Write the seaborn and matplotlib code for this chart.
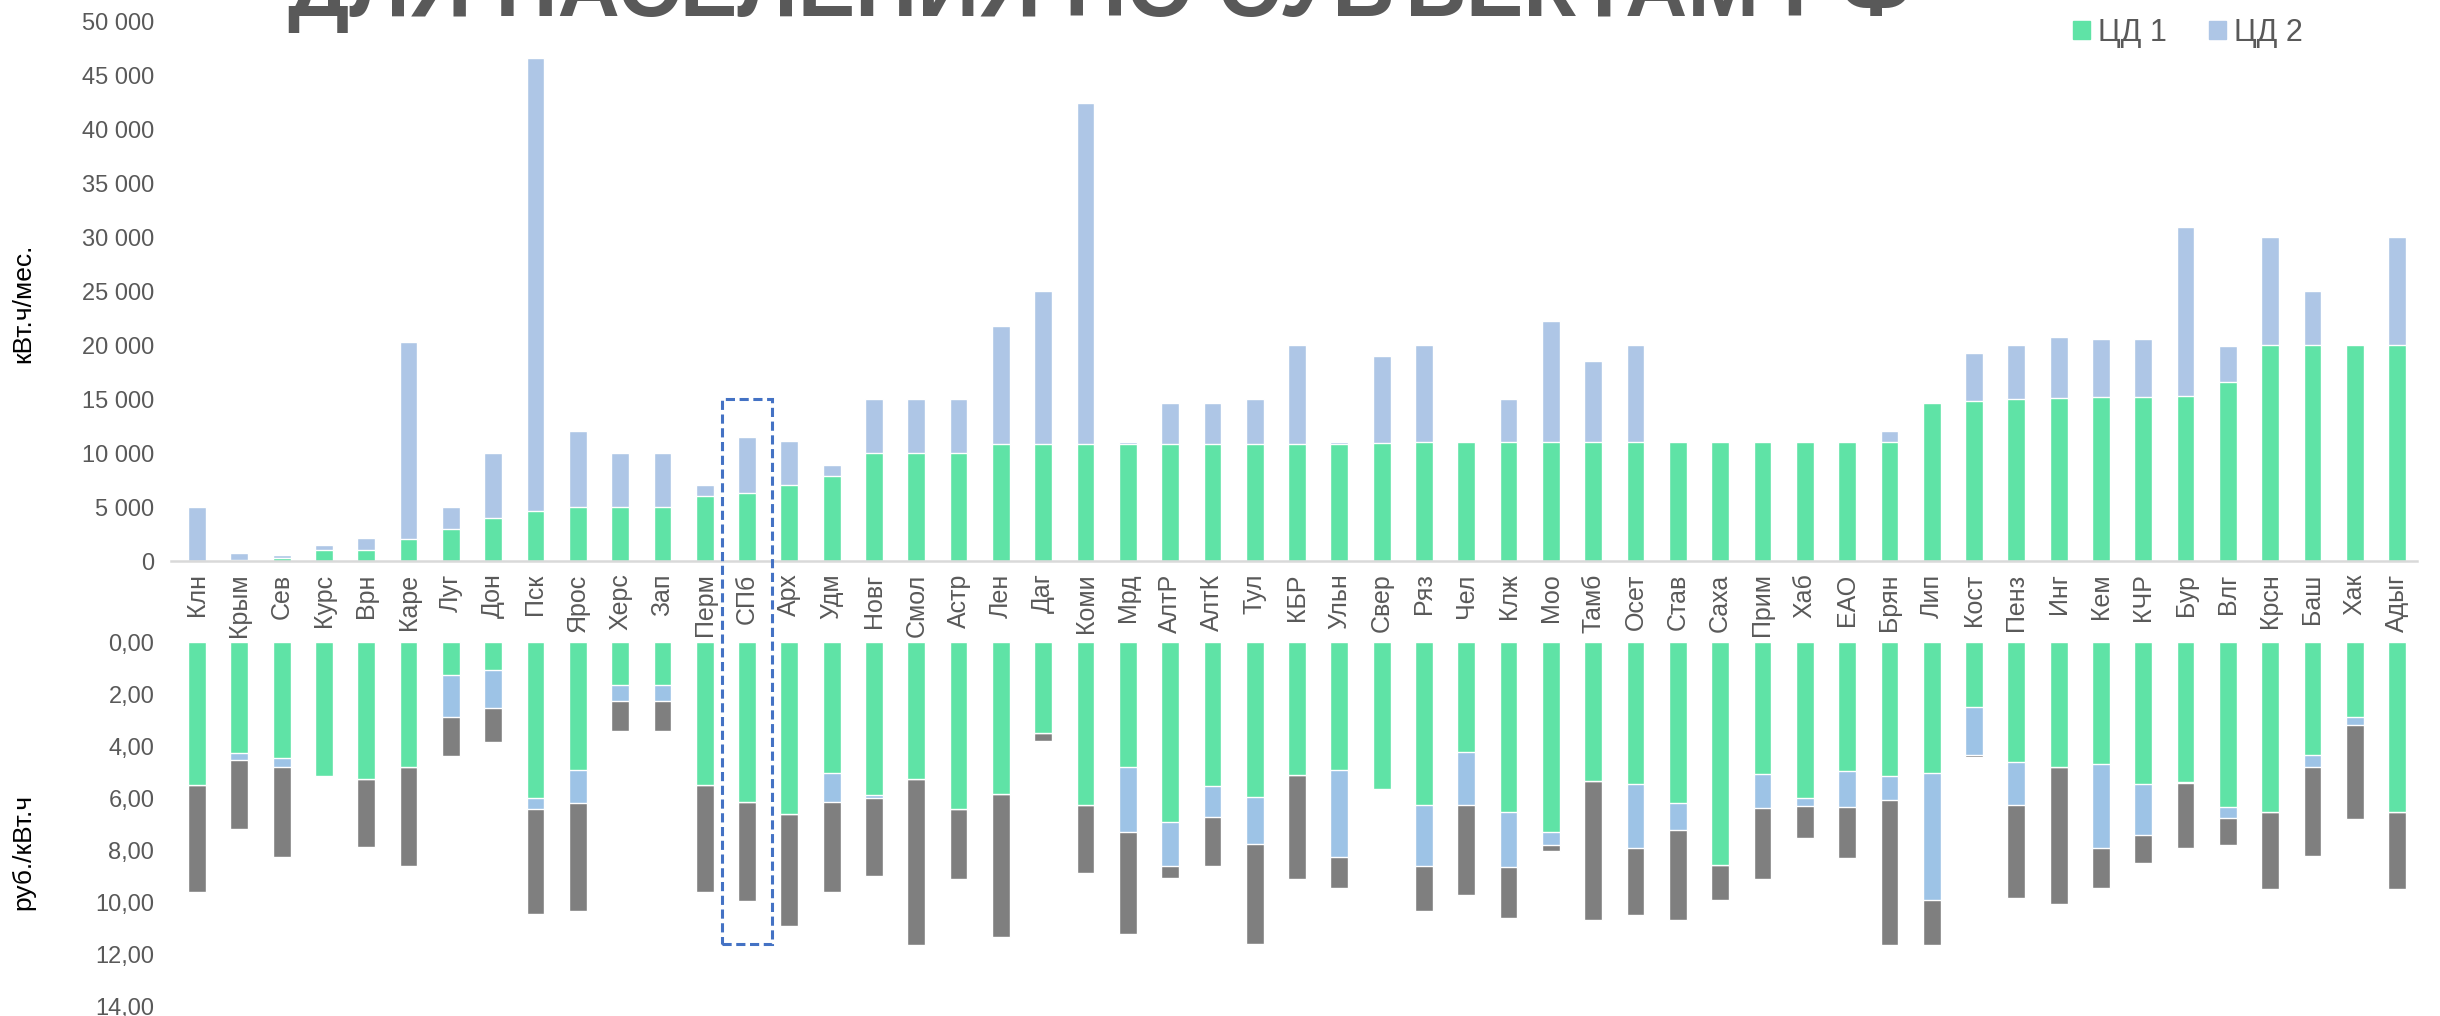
import numpy as np
import seaborn as sns
import matplotlib.pyplot as plt
from matplotlib.patches import Patch, Rectangle
from matplotlib.ticker import FuncFormatter

sns.set_style("white")
plt.rcParams['font.family'] = ['Liberation Sans', 'DejaVu Sans']

# ----------------------------
# Data
# ----------------------------
regions = ["Клн", "Крым", "Сев", "Курс", "Врн", "Каре", "Луг", "Дон", "Пск", "Ярос",
           "Херс", "Зап", "Перм", "СПб", "Арх", "Удм", "Новг", "Смол", "Астр", "Лен",
           "Даг", "Коми", "Мрд", "АлтР", "АлтК", "Тул", "КБР", "Ульн", "Свер", "Ряз",
           "Чел", "Клж", "Моо", "Тамб", "Осет", "Став", "Саха", "Прим", "Хаб", "ЕАО",
           "Брян", "Лип", "Кост", "Пенз", "Инг", "Кем", "КЧР", "Бур", "Влг", "Крсн",
           "Баш", "Хак", "Адыг"]

# consumption thresholds, kWh/month
cd1_kwh = [0, 100, 250, 1000, 1000, 2000, 3000, 4000, 4600, 5000,
           5000, 5000, 6000, 6300, 7000, 7900, 10000, 10000, 10000, 10850,
           10850, 10850, 10850, 10850, 10850, 10850, 10850, 10850, 10900, 11050,
           11050, 11050, 11050, 11050, 11050, 11050, 11050, 11050, 11050, 11050,
           11050, 14650, 14800, 15000, 15050, 15200, 15200, 15250, 16600, 20000,
           20000, 20000, 20000]
cd2_kwh = [5000, 650, 300, 500, 1100, 18300, 2000, 6000, 42000, 7000,
           5000, 5000, 1000, 5150, 4100, 1000, 5000, 5000, 5000, 10950,
           14150, 31550, 200, 3750, 3750, 4150, 9150, 200, 8100, 8950,
           0, 3950, 11200, 7450, 8950, 0, 0, 0, 0, 0,
           950, 100, 4500, 5000, 5700, 5400, 5400, 15700, 3300, 10000,
           5000, 80, 10000]

# tariffs, rub/kWh (stacked parts)
tariff_green = [5.49, 4.25, 4.45, 5.13, 5.26, 4.78, 1.26, 1.09, 5.99, 4.92,
                1.64, 1.64, 5.48, 6.15, 6.59, 5.01, 5.88, 5.26, 6.42, 5.84,
                3.49, 6.24, 4.81, 6.92, 5.53, 5.94, 5.12, 4.92, 5.62, 6.24,
                4.22, 6.52, 7.30, 5.33, 5.46, 6.19, 8.55, 5.07, 5.99, 4.96,
                5.15, 5.01, 2.48, 4.61, 4.81, 4.69, 5.46, 5.37, 6.34, 6.51,
                4.34, 2.86, 6.51]
tariff_blue = [0, 0.27, 0.36, 0.03, 0, 0, 1.62, 1.43, 0.42, 1.24,
               0.61, 0.61, 0, 0, 0, 1.11, 0.10, 0, 0, 0,
               0, 0, 2.47, 1.69, 1.17, 1.79, 0, 3.32, 0, 2.35,
               2.02, 2.11, 0.50, 0, 2.46, 1.01, 0, 1.30, 0.29, 1.37,
               0.90, 4.90, 1.85, 1.64, 0, 3.23, 1.95, 0.05, 0.40, 0,
               0.45, 0.31, 0]
tariff_grey = [4.11, 2.67, 3.43, 0, 2.61, 3.83, 1.48, 1.31, 4.04, 4.17,
               1.15, 1.15, 4.11, 3.79, 4.32, 3.46, 2.98, 6.37, 2.66, 5.48,
               0.30, 2.62, 3.91, 0.43, 1.88, 3.85, 3.98, 1.18, 0, 1.72,
               3.45, 1.95, 0.22, 5.35, 2.55, 3.45, 1.35, 2.71, 1.24, 1.96,
               5.57, 1.73, 0.10, 3.57, 5.24, 1.52, 1.08, 2.50, 1.04, 2.95,
               3.43, 3.63, 2.95]

highlight = "СПб"

GREEN = "#5FE3A6"
BLUE_TOP = "#AEC6E6"
BLUE_BOT = "#9DC3E6"
GREY = "#7F7F7F"
TEXT = "#595959"

# cumulative tops for the overlap-stacking trick
cd_total = np.array(cd1_kwh) + np.array(cd2_kwh)
t_gb = np.array(tariff_green) + np.array(tariff_blue)
t_all = t_gb + np.array(tariff_grey)

W, H = 2440, 1016
fig = plt.figure(figsize=(24.4, 10.16), dpi=100)
ax1 = fig.add_axes([171 / W, 1 - 561 / H, (2417 - 171) / W, (561 - 21) / H])
ax2 = fig.add_axes([171 / W, 1 - 1007 / H, (2417 - 171) / W, (1007 - 642) / H])

bar_w = 0.42

# ----------------------------
# Top: consumption thresholds
# ----------------------------
sns.barplot(x=regions, y=cd_total, color=BLUE_TOP, saturation=1, width=bar_w, ax=ax1)
sns.barplot(x=regions, y=cd1_kwh, color=GREEN, saturation=1, width=bar_w, ax=ax1)
ax1.set_ylim(0, 50000)
ax1.set_xlim(-0.615, 52.47)
ax1.set_yticks(range(0, 50001, 5000))
ax1.yaxis.set_major_formatter(FuncFormatter(lambda v, p: f"{int(v):,}".replace(",", " ")))
ax1.tick_params(axis="y", length=0, labelsize=17, labelcolor=TEXT, pad=12)
ax1.tick_params(axis="x", length=0, labelsize=18, labelcolor=TEXT, rotation=90, pad=9)
ax1.set_xlabel("")
ax1.set_ylabel("")
for s in ["top", "right", "left"]:
    ax1.spines[s].set_visible(False)
ax1.spines["bottom"].set_color("#D9D9D9")
ax1.spines["bottom"].set_linewidth(1.8)

handles = [Patch(color=GREEN, label="ЦД 1"), Patch(color=BLUE_TOP, label="ЦД 2")]
fig.legend(handles=handles, loc="center right", bbox_to_anchor=(2330 / W, 1 - 33 / H),
           ncol=2, frameon=False, fontsize=22, labelcolor=TEXT, handlelength=0.55,
           handleheight=0.55, handletextpad=0.25, columnspacing=1.4)

# ----------------------------
# Bottom: tariffs (inverted axis)
# ----------------------------
sns.barplot(x=regions, y=t_all, color=GREY, saturation=1, width=bar_w, ax=ax2)
sns.barplot(x=regions, y=t_gb, color=BLUE_BOT, saturation=1, width=bar_w, ax=ax2)
sns.barplot(x=regions, y=tariff_green, color=GREEN, saturation=1, width=bar_w, ax=ax2)
ax2.set_ylim(14, 0)
ax2.set_xlim(-0.615, 52.47)
ax2.set_yticks(range(0, 15, 2))
ax2.yaxis.set_major_formatter(FuncFormatter(lambda v, p: f"{v:.2f}".replace(".", ",")))
ax2.tick_params(axis="y", length=0, labelsize=17, labelcolor=TEXT, pad=12)
ax2.tick_params(axis="x", bottom=False, labelbottom=False)
ax2.set_xlabel("")
ax2.set_ylabel("")
for s in ax2.spines.values():
    s.set_visible(False)

# axis titles
fig.text(23 / W, 1 - 303 / H, "кВт.ч/мес.", rotation=90, ha="center", va="center",
         fontsize=19, color="black")
fig.text(23 / W, 1 - 852 / H, "руб./кВт.ч", rotation=90, ha="center", va="center",
         fontsize=19, color="black")

# title, cut off by the top edge as in the slide
fig.text(1100 / W, 1 - 16 / H, "ДЛЯ НАСЕЛЕНИЯ ПО СУБЪЕКТАМ РФ", ha="center",
         va="baseline", fontsize=62, fontweight="bold", color=TEXT)

# dashed frame around the highlighted region across both panels
i = regions.index(highlight)
to_fig = fig.transFigure.inverted()
x0, y0 = to_fig.transform(ax1.transData.transform((i - 0.6, 15000)))
x1, y1 = to_fig.transform(ax2.transData.transform((i + 0.6, 11.6)))
fig.patches.append(Rectangle((x0, y1), x1 - x0, y0 - y1, transform=fig.transFigure,
                             fill=False, edgecolor="#4472C4", linestyle=(0, (3, 1.5)),
                             linewidth=2.2))

plt.savefig("out.png", dpi=100)
plt.close()
